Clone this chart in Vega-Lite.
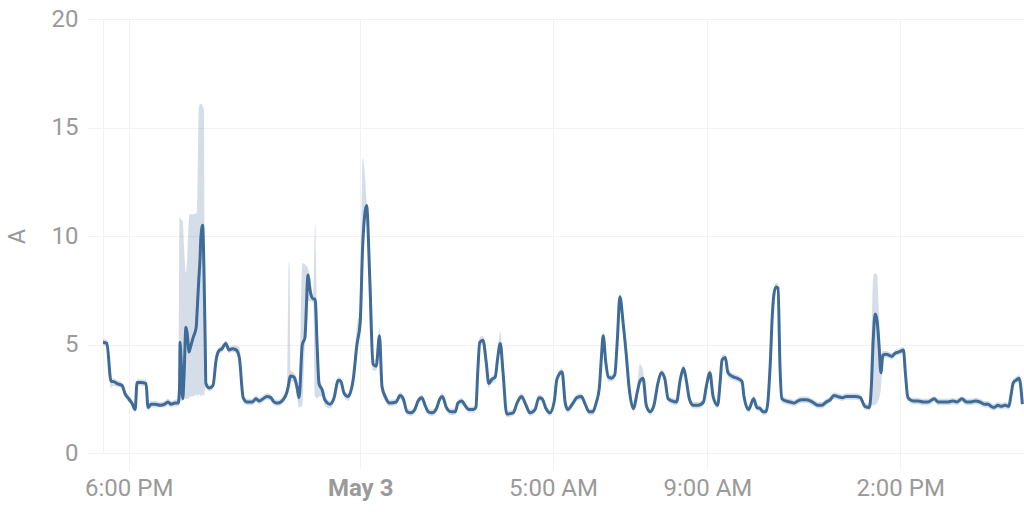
{
"$schema": "https://vega.github.io/schema/vega-lite/v6.json",
"width": 920, "height": 434,
"autosize": {"type": "none"},
"padding": {"left": 103, "top": 19, "right": 1, "bottom": 59},
"background": "white",
"config": {"view": {"stroke": null}, "font": "Roboto"},
"data": {"values": [
{"t":"2024-05-02T17:20:00Z","v":5.1,"lo":4.95,"hi":5.25},
{"t":"2024-05-02T17:26:00Z","v":5.05,"lo":4.9,"hi":5.2},
{"t":"2024-05-02T17:32:30Z","v":3.3,"lo":3.0,"hi":3.45},
{"t":"2024-05-02T17:36:00Z","v":3.3,"lo":3.1,"hi":3.45},
{"t":"2024-05-02T17:42:00Z","v":3.2,"lo":3.05,"hi":3.35},
{"t":"2024-05-02T17:50:00Z","v":3.1,"lo":2.95,"hi":3.25},
{"t":"2024-05-02T17:54:00Z","v":2.75,"lo":2.6,"hi":2.9},
{"t":"2024-05-02T18:00:00Z","v":2.5,"lo":2.35,"hi":2.65},
{"t":"2024-05-02T18:05:00Z","v":2.3,"lo":2.15,"hi":2.45},
{"t":"2024-05-02T18:10:00Z","v":2.0,"lo":1.9,"hi":2.15},
{"t":"2024-05-02T18:13:00Z","v":3.25,"lo":3.1,"hi":3.4},
{"t":"2024-05-02T18:19:00Z","v":3.25,"lo":3.1,"hi":3.4},
{"t":"2024-05-02T18:27:00Z","v":3.2,"lo":3.05,"hi":3.35},
{"t":"2024-05-02T18:30:00Z","v":2.1,"lo":1.95,"hi":2.25},
{"t":"2024-05-02T18:35:00Z","v":2.25,"lo":2.1,"hi":2.4},
{"t":"2024-05-02T18:41:00Z","v":2.25,"lo":2.1,"hi":2.4},
{"t":"2024-05-02T18:49:00Z","v":2.2,"lo":2.1,"hi":2.35},
{"t":"2024-05-02T18:56:00Z","v":2.25,"lo":2.1,"hi":2.4},
{"t":"2024-05-02T19:01:00Z","v":2.35,"lo":2.2,"hi":2.5},
{"t":"2024-05-02T19:06:00Z","v":2.25,"lo":2.1,"hi":2.4},
{"t":"2024-05-02T19:12:00Z","v":2.3,"lo":2.15,"hi":2.45},
{"t":"2024-05-02T19:17:00Z","v":2.3,"lo":2.15,"hi":2.5},
{"t":"2024-05-02T19:19:00Z","v":3.0,"lo":2.3,"hi":10.8},
{"t":"2024-05-02T19:20:00Z","v":5.1,"lo":2.4,"hi":10.9},
{"t":"2024-05-02T19:21:00Z","v":4.6,"lo":2.4,"hi":10.8},
{"t":"2024-05-02T19:24:00Z","v":2.5,"lo":2.4,"hi":10.7},
{"t":"2024-05-02T19:26:00Z","v":3.5,"lo":2.5,"hi":9.5},
{"t":"2024-05-02T19:29:00Z","v":5.8,"lo":2.5,"hi":8.3},
{"t":"2024-05-02T19:31:00Z","v":5.5,"lo":2.5,"hi":9.0},
{"t":"2024-05-02T19:34:00Z","v":4.65,"lo":2.5,"hi":10.9},
{"t":"2024-05-02T19:35:00Z","v":4.75,"lo":2.6,"hi":11.0},
{"t":"2024-05-02T19:40:00Z","v":5.3,"lo":2.6,"hi":11.0},
{"t":"2024-05-02T19:45:00Z","v":5.8,"lo":2.7,"hi":11.05},
{"t":"2024-05-02T19:46:00Z","v":6.3,"lo":2.6,"hi":11.1},
{"t":"2024-05-02T19:49:00Z","v":8.0,"lo":2.7,"hi":15.9},
{"t":"2024-05-02T19:51:00Z","v":9.0,"lo":2.7,"hi":16.1},
{"t":"2024-05-02T19:52:00Z","v":9.8,"lo":2.6,"hi":16.1},
{"t":"2024-05-02T19:55:00Z","v":10.5,"lo":2.7,"hi":16.0},
{"t":"2024-05-02T19:57:00Z","v":8.5,"lo":2.6,"hi":15.8},
{"t":"2024-05-02T19:59:00Z","v":5.0,"lo":3.0,"hi":6.0},
{"t":"2024-05-02T20:00:00Z","v":3.2,"lo":3.0,"hi":3.4},
{"t":"2024-05-02T20:05:00Z","v":3.0,"lo":2.85,"hi":3.15},
{"t":"2024-05-02T20:11:00Z","v":3.1,"lo":2.95,"hi":3.25},
{"t":"2024-05-02T20:16:00Z","v":4.3,"lo":4.1,"hi":4.5},
{"t":"2024-05-02T20:20:00Z","v":4.7,"lo":4.55,"hi":4.85},
{"t":"2024-05-02T20:25:00Z","v":4.8,"lo":4.65,"hi":4.95},
{"t":"2024-05-02T20:31:00Z","v":5.05,"lo":4.9,"hi":5.2},
{"t":"2024-05-02T20:36:00Z","v":4.75,"lo":4.6,"hi":4.9},
{"t":"2024-05-02T20:41:00Z","v":4.8,"lo":4.65,"hi":4.95},
{"t":"2024-05-02T20:47:00Z","v":4.75,"lo":4.6,"hi":4.95},
{"t":"2024-05-02T20:52:00Z","v":4.4,"lo":4.2,"hi":4.9},
{"t":"2024-05-02T20:58:00Z","v":2.55,"lo":2.4,"hi":2.7},
{"t":"2024-05-02T21:04:00Z","v":2.35,"lo":2.2,"hi":2.5},
{"t":"2024-05-02T21:12:00Z","v":2.35,"lo":2.2,"hi":2.5},
{"t":"2024-05-02T21:18:00Z","v":2.5,"lo":2.35,"hi":2.65},
{"t":"2024-05-02T21:23:00Z","v":2.4,"lo":2.25,"hi":2.55},
{"t":"2024-05-02T21:29:00Z","v":2.5,"lo":2.35,"hi":2.65},
{"t":"2024-05-02T21:35:00Z","v":2.6,"lo":2.45,"hi":2.75},
{"t":"2024-05-02T21:41:00Z","v":2.55,"lo":2.4,"hi":2.7},
{"t":"2024-05-02T21:46:00Z","v":2.35,"lo":2.2,"hi":2.5},
{"t":"2024-05-02T21:52:00Z","v":2.3,"lo":2.15,"hi":2.45},
{"t":"2024-05-02T22:00:00Z","v":2.45,"lo":2.3,"hi":2.6},
{"t":"2024-05-02T22:06:00Z","v":2.8,"lo":2.6,"hi":3.0},
{"t":"2024-05-02T22:09:00Z","v":3.2,"lo":2.9,"hi":8.8},
{"t":"2024-05-02T22:10:00Z","v":3.4,"lo":3.0,"hi":8.7},
{"t":"2024-05-02T22:12:00Z","v":3.55,"lo":3.3,"hi":3.8},
{"t":"2024-05-02T22:17:00Z","v":3.5,"lo":3.3,"hi":3.7},
{"t":"2024-05-02T22:22:00Z","v":3.0,"lo":2.5,"hi":3.4},
{"t":"2024-05-02T22:25:00Z","v":2.55,"lo":2.1,"hi":3.0},
{"t":"2024-05-02T22:30:00Z","v":5.0,"lo":2.2,"hi":8.75},
{"t":"2024-05-02T22:34:00Z","v":5.3,"lo":5.0,"hi":8.7},
{"t":"2024-05-02T22:39:00Z","v":8.2,"lo":7.0,"hi":8.5},
{"t":"2024-05-02T22:42:00Z","v":7.5,"lo":7.0,"hi":8.1},
{"t":"2024-05-02T22:47:00Z","v":7.1,"lo":6.9,"hi":7.3},
{"t":"2024-05-02T22:50:00Z","v":7.1,"lo":2.6,"hi":10.6},
{"t":"2024-05-02T22:53:00Z","v":5.0,"lo":2.5,"hi":6.0},
{"t":"2024-05-02T22:56:00Z","v":3.2,"lo":2.6,"hi":3.5},
{"t":"2024-05-02T23:01:00Z","v":2.9,"lo":2.6,"hi":3.1},
{"t":"2024-05-02T23:05:00Z","v":2.45,"lo":2.2,"hi":2.7},
{"t":"2024-05-02T23:13:00Z","v":2.25,"lo":2.05,"hi":2.4},
{"t":"2024-05-02T23:19:00Z","v":2.5,"lo":2.3,"hi":2.7},
{"t":"2024-05-02T23:26:00Z","v":3.35,"lo":3.2,"hi":3.5},
{"t":"2024-05-02T23:30:00Z","v":3.3,"lo":3.1,"hi":3.45},
{"t":"2024-05-02T23:35:00Z","v":2.75,"lo":2.6,"hi":2.9},
{"t":"2024-05-02T23:41:00Z","v":2.6,"lo":2.4,"hi":2.75},
{"t":"2024-05-02T23:49:00Z","v":3.35,"lo":3.1,"hi":3.6},
{"t":"2024-05-02T23:55:00Z","v":5.0,"lo":4.7,"hi":5.9},
{"t":"2024-05-03T00:00:00Z","v":6.0,"lo":5.7,"hi":6.6},
{"t":"2024-05-03T00:04:00Z","v":9.6,"lo":8.8,"hi":13.6},
{"t":"2024-05-03T00:10:00Z","v":11.4,"lo":11.0,"hi":11.6},
{"t":"2024-05-03T00:15:00Z","v":8.0,"lo":6.0,"hi":8.5},
{"t":"2024-05-03T00:20:00Z","v":4.1,"lo":3.8,"hi":4.4},
{"t":"2024-05-03T00:25:00Z","v":4.0,"lo":3.8,"hi":4.3},
{"t":"2024-05-03T00:30:00Z","v":5.4,"lo":4.5,"hi":5.8},
{"t":"2024-05-03T00:34:00Z","v":3.05,"lo":2.8,"hi":3.4},
{"t":"2024-05-03T00:39:00Z","v":2.6,"lo":2.4,"hi":2.8},
{"t":"2024-05-03T00:46:00Z","v":2.3,"lo":2.15,"hi":2.45},
{"t":"2024-05-03T00:56:00Z","v":2.35,"lo":2.2,"hi":2.5},
{"t":"2024-05-03T01:02:00Z","v":2.65,"lo":2.5,"hi":2.8},
{"t":"2024-05-03T01:07:00Z","v":2.5,"lo":2.3,"hi":2.65},
{"t":"2024-05-03T01:13:00Z","v":1.9,"lo":1.75,"hi":2.05},
{"t":"2024-05-03T01:19:00Z","v":1.85,"lo":1.7,"hi":2.0},
{"t":"2024-05-03T01:25:00Z","v":2.0,"lo":1.85,"hi":2.15},
{"t":"2024-05-03T01:30:00Z","v":2.4,"lo":2.25,"hi":2.55},
{"t":"2024-05-03T01:36:00Z","v":2.55,"lo":2.4,"hi":2.7},
{"t":"2024-05-03T01:41:00Z","v":2.2,"lo":2.05,"hi":2.35},
{"t":"2024-05-03T01:46:00Z","v":1.9,"lo":1.75,"hi":2.05},
{"t":"2024-05-03T01:52:00Z","v":1.85,"lo":1.7,"hi":2.0},
{"t":"2024-05-03T01:58:00Z","v":2.0,"lo":1.85,"hi":2.15},
{"t":"2024-05-03T02:04:00Z","v":2.5,"lo":2.35,"hi":2.65},
{"t":"2024-05-03T02:08:00Z","v":2.6,"lo":2.45,"hi":2.75},
{"t":"2024-05-03T02:14:00Z","v":2.1,"lo":1.95,"hi":2.25},
{"t":"2024-05-03T02:21:00Z","v":1.9,"lo":1.75,"hi":2.05},
{"t":"2024-05-03T02:28:00Z","v":1.9,"lo":1.75,"hi":2.05},
{"t":"2024-05-03T02:32:00Z","v":2.3,"lo":2.15,"hi":2.45},
{"t":"2024-05-03T02:38:00Z","v":2.4,"lo":2.25,"hi":2.55},
{"t":"2024-05-03T02:43:00Z","v":2.2,"lo":2.05,"hi":2.35},
{"t":"2024-05-03T02:49:00Z","v":2.0,"lo":1.85,"hi":2.15},
{"t":"2024-05-03T02:56:00Z","v":2.0,"lo":1.85,"hi":2.15},
{"t":"2024-05-03T03:00:00Z","v":2.1,"lo":1.95,"hi":2.3},
{"t":"2024-05-03T03:03:00Z","v":3.8,"lo":3.5,"hi":4.1},
{"t":"2024-05-03T03:06:00Z","v":5.1,"lo":4.9,"hi":5.35},
{"t":"2024-05-03T03:11:00Z","v":5.2,"lo":5.0,"hi":5.4},
{"t":"2024-05-03T03:16:00Z","v":4.2,"lo":3.9,"hi":4.5},
{"t":"2024-05-03T03:20:00Z","v":3.2,"lo":3.0,"hi":3.4},
{"t":"2024-05-03T03:25:00Z","v":3.4,"lo":3.2,"hi":3.55},
{"t":"2024-05-03T03:30:00Z","v":3.5,"lo":3.3,"hi":3.65},
{"t":"2024-05-03T03:34:00Z","v":4.4,"lo":4.2,"hi":4.8},
{"t":"2024-05-03T03:38:00Z","v":5.05,"lo":4.8,"hi":5.6},
{"t":"2024-05-03T03:42:00Z","v":3.8,"lo":3.4,"hi":4.2},
{"t":"2024-05-03T03:48:00Z","v":1.8,"lo":1.65,"hi":1.95},
{"t":"2024-05-03T03:58:00Z","v":1.85,"lo":1.7,"hi":2.0},
{"t":"2024-05-03T04:04:00Z","v":2.3,"lo":2.15,"hi":2.45},
{"t":"2024-05-03T04:11:00Z","v":2.6,"lo":2.45,"hi":2.75},
{"t":"2024-05-03T04:18:00Z","v":2.2,"lo":2.05,"hi":2.35},
{"t":"2024-05-03T04:24:00Z","v":1.85,"lo":1.7,"hi":2.0},
{"t":"2024-05-03T04:32:00Z","v":2.0,"lo":1.85,"hi":2.15},
{"t":"2024-05-03T04:38:00Z","v":2.55,"lo":2.4,"hi":2.7},
{"t":"2024-05-03T04:43:00Z","v":2.5,"lo":2.35,"hi":2.65},
{"t":"2024-05-03T04:49:00Z","v":2.05,"lo":1.9,"hi":2.2},
{"t":"2024-05-03T04:55:00Z","v":1.85,"lo":1.7,"hi":2.0},
{"t":"2024-05-03T05:02:00Z","v":2.4,"lo":2.25,"hi":2.6},
{"t":"2024-05-03T05:06:00Z","v":3.4,"lo":3.2,"hi":3.6},
{"t":"2024-05-03T05:14:00Z","v":3.75,"lo":3.6,"hi":3.9},
{"t":"2024-05-03T05:19:00Z","v":2.3,"lo":2.1,"hi":2.5},
{"t":"2024-05-03T05:23:00Z","v":2.0,"lo":1.85,"hi":2.15},
{"t":"2024-05-03T05:31:00Z","v":2.3,"lo":2.15,"hi":2.45},
{"t":"2024-05-03T05:37:00Z","v":2.55,"lo":2.4,"hi":2.7},
{"t":"2024-05-03T05:44:00Z","v":2.6,"lo":2.45,"hi":2.75},
{"t":"2024-05-03T05:50:00Z","v":2.25,"lo":2.1,"hi":2.4},
{"t":"2024-05-03T05:56:00Z","v":1.9,"lo":1.75,"hi":2.05},
{"t":"2024-05-03T06:02:00Z","v":1.9,"lo":1.75,"hi":2.05},
{"t":"2024-05-03T06:07:00Z","v":2.3,"lo":2.15,"hi":2.45},
{"t":"2024-05-03T06:12:00Z","v":3.0,"lo":2.8,"hi":3.3},
{"t":"2024-05-03T06:15:00Z","v":4.3,"lo":4.0,"hi":4.8},
{"t":"2024-05-03T06:18:00Z","v":5.4,"lo":5.2,"hi":5.6},
{"t":"2024-05-03T06:22:00Z","v":4.2,"lo":3.9,"hi":4.5},
{"t":"2024-05-03T06:26:00Z","v":3.5,"lo":3.3,"hi":3.7},
{"t":"2024-05-03T06:31:00Z","v":3.45,"lo":3.3,"hi":3.6},
{"t":"2024-05-03T06:36:00Z","v":3.6,"lo":3.45,"hi":3.8},
{"t":"2024-05-03T06:40:00Z","v":5.2,"lo":4.9,"hi":5.6},
{"t":"2024-05-03T06:44:00Z","v":7.2,"lo":7.0,"hi":7.35},
{"t":"2024-05-03T06:49:00Z","v":6.0,"lo":5.6,"hi":6.3},
{"t":"2024-05-03T06:54:00Z","v":4.5,"lo":4.2,"hi":4.8},
{"t":"2024-05-03T06:58:00Z","v":3.1,"lo":2.9,"hi":3.3},
{"t":"2024-05-03T07:05:00Z","v":2.05,"lo":1.9,"hi":2.2},
{"t":"2024-05-03T07:11:00Z","v":2.8,"lo":2.6,"hi":3.0},
{"t":"2024-05-03T07:15:00Z","v":3.3,"lo":3.1,"hi":4.1},
{"t":"2024-05-03T07:20:00Z","v":3.45,"lo":3.3,"hi":3.8},
{"t":"2024-05-03T07:25:00Z","v":2.2,"lo":2.05,"hi":2.35},
{"t":"2024-05-03T07:31:00Z","v":1.9,"lo":1.75,"hi":2.05},
{"t":"2024-05-03T07:37:00Z","v":2.2,"lo":2.05,"hi":2.35},
{"t":"2024-05-03T07:43:00Z","v":3.2,"lo":3.05,"hi":3.35},
{"t":"2024-05-03T07:49:00Z","v":3.7,"lo":3.55,"hi":3.85},
{"t":"2024-05-03T07:54:00Z","v":3.4,"lo":3.2,"hi":3.6},
{"t":"2024-05-03T07:59:00Z","v":2.5,"lo":2.35,"hi":2.65},
{"t":"2024-05-03T08:05:00Z","v":2.4,"lo":2.25,"hi":2.55},
{"t":"2024-05-03T08:12:00Z","v":2.35,"lo":2.2,"hi":2.5},
{"t":"2024-05-03T08:18:00Z","v":3.4,"lo":3.2,"hi":3.6},
{"t":"2024-05-03T08:23:00Z","v":3.9,"lo":3.75,"hi":4.05},
{"t":"2024-05-03T08:27:00Z","v":3.4,"lo":3.2,"hi":3.6},
{"t":"2024-05-03T08:32:00Z","v":2.5,"lo":2.35,"hi":2.65},
{"t":"2024-05-03T08:38:00Z","v":2.2,"lo":2.05,"hi":2.35},
{"t":"2024-05-03T08:46:00Z","v":2.2,"lo":2.05,"hi":2.35},
{"t":"2024-05-03T08:54:00Z","v":2.35,"lo":2.2,"hi":2.5},
{"t":"2024-05-03T08:58:00Z","v":3.0,"lo":2.8,"hi":3.2},
{"t":"2024-05-03T09:04:00Z","v":3.7,"lo":3.55,"hi":3.85},
{"t":"2024-05-03T09:09:00Z","v":2.6,"lo":2.4,"hi":2.8},
{"t":"2024-05-03T09:16:00Z","v":2.2,"lo":2.05,"hi":2.35},
{"t":"2024-05-03T09:20:00Z","v":3.3,"lo":3.1,"hi":3.6},
{"t":"2024-05-03T09:23:00Z","v":4.3,"lo":4.1,"hi":4.5},
{"t":"2024-05-03T09:28:00Z","v":4.4,"lo":4.25,"hi":4.55},
{"t":"2024-05-03T09:32:00Z","v":3.7,"lo":3.5,"hi":3.9},
{"t":"2024-05-03T09:41:00Z","v":3.5,"lo":3.35,"hi":3.65},
{"t":"2024-05-03T09:46:00Z","v":3.45,"lo":3.3,"hi":3.6},
{"t":"2024-05-03T09:54:00Z","v":3.3,"lo":3.1,"hi":3.45},
{"t":"2024-05-03T09:57:00Z","v":2.6,"lo":2.4,"hi":2.8},
{"t":"2024-05-03T10:04:00Z","v":2.0,"lo":1.85,"hi":2.15},
{"t":"2024-05-03T10:12:00Z","v":2.5,"lo":2.35,"hi":2.65},
{"t":"2024-05-03T10:17:00Z","v":2.1,"lo":1.95,"hi":2.25},
{"t":"2024-05-03T10:22:00Z","v":2.05,"lo":1.9,"hi":2.2},
{"t":"2024-05-03T10:27:00Z","v":1.9,"lo":1.75,"hi":2.05},
{"t":"2024-05-03T10:31:00Z","v":1.9,"lo":1.75,"hi":2.05},
{"t":"2024-05-03T10:34:00Z","v":2.3,"lo":2.0,"hi":2.6},
{"t":"2024-05-03T10:38:00Z","v":4.2,"lo":3.8,"hi":4.6},
{"t":"2024-05-03T10:41:00Z","v":6.3,"lo":6.0,"hi":6.6},
{"t":"2024-05-03T10:44:00Z","v":7.4,"lo":7.2,"hi":7.6},
{"t":"2024-05-03T10:47:00Z","v":7.65,"lo":7.5,"hi":7.85},
{"t":"2024-05-03T10:50:00Z","v":7.6,"lo":7.4,"hi":7.8},
{"t":"2024-05-03T10:53:00Z","v":4.0,"lo":3.5,"hi":5.0},
{"t":"2024-05-03T10:56:00Z","v":2.5,"lo":2.3,"hi":2.7},
{"t":"2024-05-03T11:02:00Z","v":2.4,"lo":2.25,"hi":2.55},
{"t":"2024-05-03T11:09:00Z","v":2.35,"lo":2.2,"hi":2.5},
{"t":"2024-05-03T11:15:00Z","v":2.3,"lo":2.15,"hi":2.45},
{"t":"2024-05-03T11:21:00Z","v":2.4,"lo":2.25,"hi":2.55},
{"t":"2024-05-03T11:27:00Z","v":2.45,"lo":2.3,"hi":2.6},
{"t":"2024-05-03T11:34:00Z","v":2.45,"lo":2.3,"hi":2.6},
{"t":"2024-05-03T11:40:00Z","v":2.4,"lo":2.25,"hi":2.55},
{"t":"2024-05-03T11:46:00Z","v":2.3,"lo":2.15,"hi":2.45},
{"t":"2024-05-03T11:52:00Z","v":2.2,"lo":2.05,"hi":2.35},
{"t":"2024-05-03T11:58:00Z","v":2.2,"lo":2.05,"hi":2.35},
{"t":"2024-05-03T12:05:00Z","v":2.35,"lo":2.2,"hi":2.5},
{"t":"2024-05-03T12:11:00Z","v":2.45,"lo":2.3,"hi":2.6},
{"t":"2024-05-03T12:17:00Z","v":2.65,"lo":2.5,"hi":2.8},
{"t":"2024-05-03T12:23:00Z","v":2.6,"lo":2.45,"hi":2.75},
{"t":"2024-05-03T12:30:00Z","v":2.55,"lo":2.4,"hi":2.7},
{"t":"2024-05-03T12:36:00Z","v":2.6,"lo":2.45,"hi":2.75},
{"t":"2024-05-03T12:42:00Z","v":2.6,"lo":2.45,"hi":2.75},
{"t":"2024-05-03T12:50:00Z","v":2.6,"lo":2.45,"hi":2.75},
{"t":"2024-05-03T12:58:00Z","v":2.55,"lo":2.4,"hi":2.7},
{"t":"2024-05-03T13:05:00Z","v":2.15,"lo":2.0,"hi":2.3},
{"t":"2024-05-03T13:12:00Z","v":2.1,"lo":1.95,"hi":2.25},
{"t":"2024-05-03T13:15:00Z","v":3.0,"lo":2.2,"hi":5.0},
{"t":"2024-05-03T13:18:00Z","v":5.2,"lo":2.2,"hi":8.1},
{"t":"2024-05-03T13:21:00Z","v":6.4,"lo":2.2,"hi":8.3},
{"t":"2024-05-03T13:24:00Z","v":6.1,"lo":2.3,"hi":8.2},
{"t":"2024-05-03T13:27:00Z","v":5.0,"lo":2.5,"hi":6.5},
{"t":"2024-05-03T13:30:00Z","v":3.7,"lo":3.0,"hi":4.6},
{"t":"2024-05-03T13:33:00Z","v":4.5,"lo":4.3,"hi":4.7},
{"t":"2024-05-03T13:38:00Z","v":4.55,"lo":4.4,"hi":4.7},
{"t":"2024-05-03T13:43:00Z","v":4.5,"lo":4.35,"hi":4.65},
{"t":"2024-05-03T13:47:00Z","v":4.45,"lo":4.3,"hi":4.6},
{"t":"2024-05-03T13:52:00Z","v":4.6,"lo":4.45,"hi":4.75},
{"t":"2024-05-03T13:57:00Z","v":4.65,"lo":4.5,"hi":4.8},
{"t":"2024-05-03T14:01:00Z","v":4.7,"lo":4.55,"hi":4.85},
{"t":"2024-05-03T14:05:00Z","v":4.75,"lo":4.6,"hi":4.9},
{"t":"2024-05-03T14:08:00Z","v":3.7,"lo":3.4,"hi":4.2},
{"t":"2024-05-03T14:12:00Z","v":2.55,"lo":2.4,"hi":2.7},
{"t":"2024-05-03T14:20:00Z","v":2.4,"lo":2.25,"hi":2.55},
{"t":"2024-05-03T14:28:00Z","v":2.4,"lo":2.25,"hi":2.55},
{"t":"2024-05-03T14:36:00Z","v":2.35,"lo":2.2,"hi":2.5},
{"t":"2024-05-03T14:43:00Z","v":2.35,"lo":2.2,"hi":2.5},
{"t":"2024-05-03T14:53:00Z","v":2.5,"lo":2.35,"hi":2.6},
{"t":"2024-05-03T14:59:00Z","v":2.35,"lo":2.2,"hi":2.5},
{"t":"2024-05-03T15:07:00Z","v":2.35,"lo":2.2,"hi":2.5},
{"t":"2024-05-03T15:14:00Z","v":2.35,"lo":2.2,"hi":2.5},
{"t":"2024-05-03T15:22:00Z","v":2.4,"lo":2.25,"hi":2.55},
{"t":"2024-05-03T15:28:00Z","v":2.35,"lo":2.2,"hi":2.5},
{"t":"2024-05-03T15:36:00Z","v":2.5,"lo":2.35,"hi":2.6},
{"t":"2024-05-03T15:43:00Z","v":2.35,"lo":2.2,"hi":2.5},
{"t":"2024-05-03T15:50:00Z","v":2.35,"lo":2.2,"hi":2.5},
{"t":"2024-05-03T15:57:00Z","v":2.4,"lo":2.25,"hi":2.55},
{"t":"2024-05-03T16:04:00Z","v":2.35,"lo":2.2,"hi":2.5},
{"t":"2024-05-03T16:11:00Z","v":2.25,"lo":2.1,"hi":2.4},
{"t":"2024-05-03T16:17:00Z","v":2.25,"lo":2.1,"hi":2.4},
{"t":"2024-05-03T16:21:00Z","v":2.15,"lo":2.0,"hi":2.3},
{"t":"2024-05-03T16:26:00Z","v":2.1,"lo":1.95,"hi":2.25},
{"t":"2024-05-03T16:32:00Z","v":2.2,"lo":2.05,"hi":2.35},
{"t":"2024-05-03T16:37:00Z","v":2.15,"lo":2.0,"hi":2.3},
{"t":"2024-05-03T16:43:00Z","v":2.2,"lo":2.05,"hi":2.35},
{"t":"2024-05-03T16:49:00Z","v":2.15,"lo":2.0,"hi":2.3},
{"t":"2024-05-03T16:52:00Z","v":2.6,"lo":2.4,"hi":2.9},
{"t":"2024-05-03T16:56:00Z","v":3.25,"lo":3.1,"hi":3.4},
{"t":"2024-05-03T17:00:00Z","v":3.35,"lo":3.2,"hi":3.5},
{"t":"2024-05-03T17:05:00Z","v":3.45,"lo":3.3,"hi":3.6},
{"t":"2024-05-03T17:10:00Z","v":2.25,"lo":2.1,"hi":2.4}
]},
"encoding": {
  "x": {"field": "t", "type": "temporal",
    "scale": {"type": "utc", "domain": [{"year":2024,"month":5,"date":2,"hours":17,"minutes":20,"utc":true},{"year":2024,"month":5,"date":3,"hours":17,"minutes":11,"utc":true}]},
    "axis": {"title": null,
      "values": [{"year":2024,"month":5,"date":2,"hours":18,"utc":true},{"year":2024,"month":5,"date":3,"hours":0,"utc":true},{"year":2024,"month":5,"date":3,"hours":5,"utc":true},{"year":2024,"month":5,"date":3,"hours":9,"utc":true},{"year":2024,"month":5,"date":3,"hours":14,"utc":true}],
      "labelExpr": "utchours(datum.value) == 0 ? utcFormat(datum.value, '%b %-d') : utcFormat(datum.value, '%-I:%M %p')",
      "labelFontWeight": {"condition": {"test": "utchours(datum.value) == 0", "value": "bold"}, "value": "normal"},
      "labelFont": "Roboto", "labelFontSize": 24, "labelColor": "#9a9a9a",
      "labelPadding": 7, "tickSize": 16, "tickColor": "#f2f2f2", "tickWidth": 1,
      "grid": true, "gridColor": "#f2f2f2", "gridWidth": 1,
      "domain": false, "labelFlush": false, "labelOverlap": false
    }
  }
},
"layer": [
  {"mark": {"type": "area", "interpolate": "monotone", "color": "#3e6b98", "opacity": 0.22},
   "encoding": {
     "y": {"field": "hi", "type": "quantitative",
       "scale": {"domain": [0, 20], "nice": false, "zero": true},
       "axis": {"title": "A", "values": [0,5,10,15,20],
         "labelFont": "Roboto", "labelFontSize": 24, "labelColor": "#9a9a9a", "labelPadding": 10,
         "tickSize": 15, "tickColor": "#f2f2f2", "grid": true, "gridColor": "#f2f2f2",
         "domain": true, "domainColor": "#f2f2f2",
         "titleFont": "Roboto", "titleFontSize": 23, "titleFontWeight": "normal", "titleColor": "#9a9a9a", "titlePadding": 22}},
     "y2": {"field": "lo"}
   }},
  {"mark": {"type": "line", "interpolate": "monotone", "color": "#3e6b98", "strokeWidth": 3},
   "encoding": {"y": {"field": "v", "type": "quantitative"}}}
]
}
